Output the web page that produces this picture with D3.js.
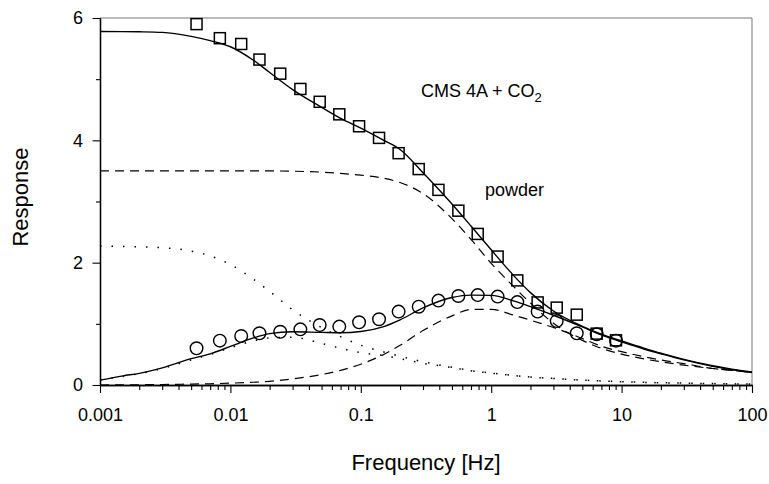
<!DOCTYPE html>
<html>
<head>
<meta charset="utf-8">
<script src="https://cdn.jsdelivr.net/npm/d3@7"></script>
<style>
  html, body { margin: 0; padding: 0; background: #fff; }
  svg { display: block; }
  text { font-family: "Liberation Sans", Arial, sans-serif; fill: #000; }
</style>
</head>
<body>
<svg id="chart" width="769" height="484"></svg>
<script>
// ---------- data ----------
const xTickLabels = ["0.001", "0.01", "0.1", "1", "10", "100"];
const xMajorTicks = [0.001, 0.01, 0.1, 1, 10, 100];
const yMajorTicks = [0, 2, 4, 6];
const yMinorTicks = [1, 3, 5];

// measured points (frequency in Hz)
const measFreq = [0.0055, 0.0083, 0.0121, 0.0167, 0.0241, 0.0344, 0.0484, 0.0684, 0.097, 0.138, 0.195,
                  0.278, 0.394, 0.56, 0.788, 1.12, 1.585, 2.27, 3.18, 4.53, 6.44, 9.06];
const inPhase  = [5.90, 5.67, 5.575, 5.32, 5.09, 4.84, 4.63, 4.425, 4.23, 4.04, 3.79,
                  3.53, 3.19, 2.85, 2.47, 2.10, 1.71, 1.35, 1.265, 1.15, 0.84, 0.73];
const outPhase = [0.60, 0.725, 0.80, 0.845, 0.87, 0.91, 0.98, 0.955, 1.025, 1.075, 1.20,
                  1.28, 1.38, 1.455, 1.47, 1.445, 1.355, 1.20, 1.045, 0.845, 0.83, 0.725];

// model curves at these frequencies
const curveFreq = [0.001, 0.0015, 0.002, 0.003, 0.005, 0.007, 0.01, 0.015, 0.02, 0.03, 0.05, 0.07,
                   0.1, 0.15, 0.2, 0.3, 0.5, 0.7, 1, 1.5, 2, 3, 5, 7, 10, 15, 20, 30, 50, 70, 100];
const totalIn   = [5.78, 5.778, 5.775, 5.765, 5.70, 5.63, 5.53, 5.31, 5.11, 4.83, 4.54, 4.36,
                   4.20, 4.00, 3.85, 3.47, 2.96, 2.60, 2.21, 1.78, 1.51, 1.21, 0.96, 0.83,
                   0.72, 0.60, 0.52, 0.42, 0.315, 0.26, 0.215];
const totalOut  = [0.08, 0.15, 0.19, 0.28, 0.43, 0.51, 0.63, 0.77, 0.84, 0.87, 0.86, 0.855,
                   0.875, 0.955, 1.065, 1.26, 1.43, 1.47, 1.465, 1.37, 1.28, 1.14, 0.95, 0.82,
                   0.705, 0.585, 0.51, 0.41, 0.305, 0.25, 0.205];
const powderIn  = [3.50, 3.50, 3.50, 3.50, 3.50, 3.50, 3.50, 3.50, 3.50, 3.495, 3.48, 3.46,
                   3.43, 3.38, 3.31, 3.13, 2.72, 2.38, 1.99, 1.60, 1.34, 1.01, 0.73, 0.60,
                   0.505, 0.425, 0.38, 0.325, 0.27, 0.24, 0.21];
const powderOut = [0.0, 0.002, 0.004, 0.008, 0.015, 0.02, 0.03, 0.045, 0.06, 0.10, 0.17, 0.24,
                   0.34, 0.50, 0.65, 0.89, 1.13, 1.235, 1.235, 1.14, 1.06, 0.94, 0.76, 0.635,
                   0.545, 0.46, 0.41, 0.35, 0.27, 0.24, 0.205];
const otherIn   = [2.27, 2.265, 2.26, 2.245, 2.19, 2.11, 1.97, 1.73, 1.53, 1.23, 0.94, 0.79,
                   0.65, 0.54, 0.47, 0.38, 0.29, 0.235, 0.195, 0.155, 0.13, 0.107, 0.08, 0.067,
                   0.054, 0.043, 0.037, 0.03, 0.023, 0.019, 0.015];
const otherOut  = [0.08, 0.14, 0.185, 0.27, 0.41, 0.50, 0.61, 0.72, 0.77, 0.78, 0.68, 0.60,
                   0.53, 0.48, 0.43, 0.355, 0.285, 0.232, 0.193, 0.155, 0.13, 0.107, 0.08, 0.067,
                   0.054, 0.043, 0.037, 0.03, 0.023, 0.019, 0.015];

// ---------- layout ----------
const svg = d3.select("#chart");
const L = 100, R = 752, T = 18, B = 385;
const x = d3.scaleLog().domain([0.001, 100]).range([L, R]);
const y = d3.scaleLinear().domain([0, 6]).range([B, T]);

// minor x ticks (2..9 in each decade)
const xMinorTicks = [];
xMajorTicks.slice(0, -1).forEach(d => { for (let k = 2; k <= 9; k++) xMinorTicks.push(d * k); });

// frame (top/right)
svg.append("line").attr("x1", L).attr("x2", R).attr("y1", T).attr("y2", T)
  .attr("stroke", "#777").attr("stroke-width", 1);
svg.append("line").attr("x1", R).attr("x2", R).attr("y1", T).attr("y2", B)
  .attr("stroke", "#777").attr("stroke-width", 1);

// curves
const line = ys => d3.line()
  .x((d, i) => x(curveFreq[i]))
  .y((d, i) => y(ys[i]))
  .curve(d3.curveMonotoneX)(ys);

const curves = [
  { ys: totalIn,   dash: null,     w: 1.4 },
  { ys: totalOut,  dash: null,     w: 1.4 },
  { ys: powderIn,  dash: "9,6",    w: 1.2 },
  { ys: powderOut, dash: "9,6",    w: 1.2 },
  { ys: otherIn,   dash: "1.5,10", w: 1.5 },
  { ys: otherOut,  dash: "1.5,10", w: 1.5 }
];
curves.forEach(c => {
  svg.append("path").attr("d", line(c.ys))
    .attr("fill", "none").attr("stroke", "#000")
    .attr("stroke-width", c.w)
    .attr("stroke-dasharray", c.dash);
});

// axes
const gx = svg.append("g").attr("transform", `translate(0,${B})`);
gx.call(d3.axisBottom(x).tickValues(xMinorTicks).tickSize(5).tickFormat("").tickSizeOuter(0));
gx.call(g => g.append("g").call(
  d3.axisBottom(x).tickValues(xMajorTicks).tickSize(8).tickPadding(15)
    .tickFormat((d, i) => xTickLabels[i]).tickSizeOuter(0)));
gx.selectAll("path.domain").attr("stroke", "#000").attr("stroke-width", 1.3);
gx.selectAll("line").attr("stroke", "#000").attr("stroke-width", 1.1);
gx.selectAll("text").style("font-size", "18px").attr("fill", "#000");

const gy = svg.append("g").attr("transform", `translate(${L},0)`);
gy.call(d3.axisLeft(y).tickValues(yMinorTicks).tickSize(4).tickFormat("").tickSizeOuter(0));
gy.call(g => g.append("g").call(
  d3.axisLeft(y).tickValues(yMajorTicks).tickSize(7.5).tickPadding(9.5)
    .tickFormat(d3.format("d")).tickSizeOuter(0)));
gy.selectAll("path.domain").attr("stroke", "#000").attr("stroke-width", 1.3);
gy.selectAll("line").attr("stroke", "#000").attr("stroke-width", 1.1);
gy.selectAll("text").style("font-size", "18px").attr("fill", "#000");

// markers
svg.append("g").selectAll("rect").data(measFreq).join("rect")
  .attr("x", d => x(d) - 5.5).attr("y", (d, i) => y(inPhase[i]) - 5.5)
  .attr("width", 11).attr("height", 11)
  .attr("fill", "none").attr("stroke", "#000").attr("stroke-width", 1.5);
svg.append("g").selectAll("circle").data(measFreq).join("circle")
  .attr("cx", d => x(d)).attr("cy", (d, i) => y(outPhase[i]))
  .attr("r", 6.3)
  .attr("fill", "none").attr("stroke", "#000").attr("stroke-width", 1.4);

// annotations
const t1 = svg.append("text").attr("x", 421).attr("y", 97).style("font-size", "18px");
t1.append("tspan").text("CMS 4A + CO");
t1.append("tspan").attr("dy", 5).style("font-size", "13px").text("2");
svg.append("text").attr("x", 485).attr("y", 196).style("font-size", "18px").text("powder");

// axis titles
svg.append("text").attr("x", (L + R) / 2).attr("y", 470)
  .attr("text-anchor", "middle").style("font-size", "22px").text("Frequency [Hz]");
svg.append("text").attr("transform", "translate(28,197) rotate(-90)")
  .attr("text-anchor", "middle").style("font-size", "22px").text("Response");
</script>
</body>
</html>
